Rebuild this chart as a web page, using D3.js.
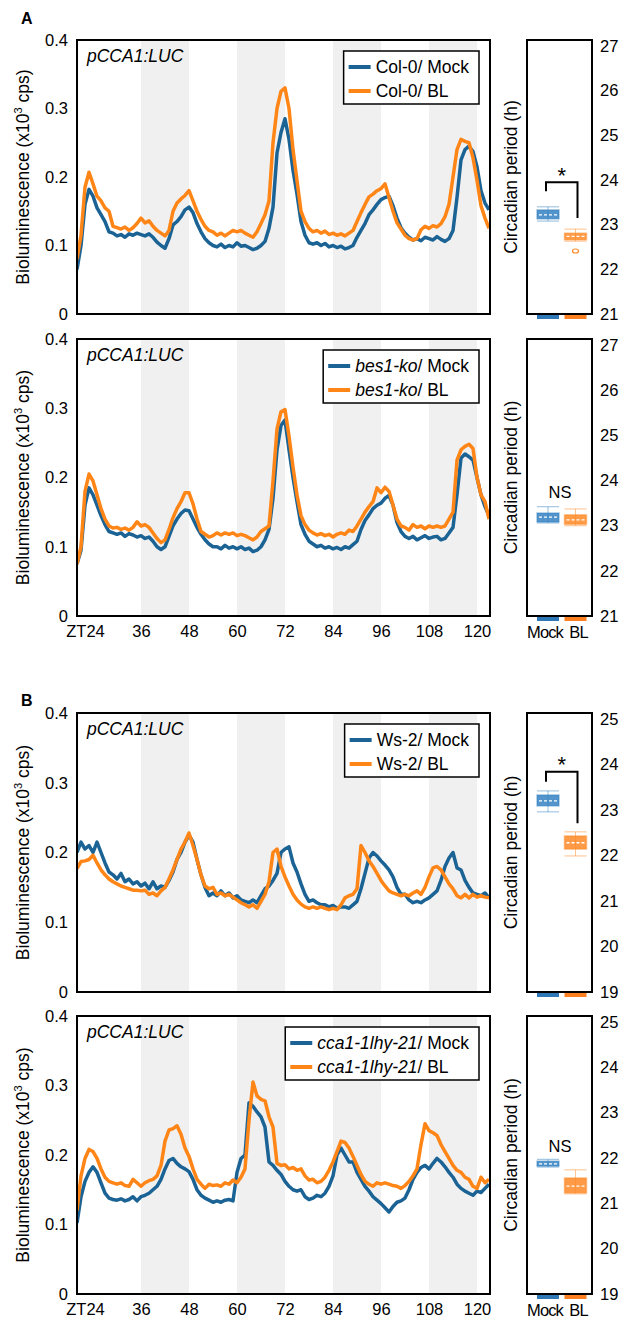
<!DOCTYPE html>
<html>
<head>
<meta charset="utf-8">
<script src="https://cdn.jsdelivr.net/npm/d3@7"></script>
<style>
  body { margin: 0; background: #fff; }
  svg { display: block; font-family: "Liberation Sans", Arial, sans-serif; }
</style>
</head>
<body>
<svg id="fig" width="621" height="1319"></svg>
<script>
// sampling hours (ZT), one reading per hour
var hours = d3.range(20, 124);

// A: Col-0
var col0Mock = [
  0.065,0.10,0.16,0.182,0.172,0.155,0.145,0.135,0.12,0.118,
  0.114,0.116,0.112,0.117,0.115,0.118,0.116,0.114,0.117,0.112,
  0.105,0.1,0.096,0.11,0.13,0.135,0.142,0.152,0.156,0.148,
  0.132,0.12,0.11,0.104,0.1,0.098,0.102,0.097,0.1,0.098,
  0.104,0.099,0.1,0.097,0.094,0.096,0.1,0.106,0.125,0.156,
  0.235,0.265,0.285,0.255,0.21,0.175,0.135,0.115,0.104,0.102,
  0.104,0.1,0.103,0.098,0.1,0.097,0.099,0.095,0.097,0.1,
  0.112,0.122,0.132,0.145,0.152,0.16,0.167,0.17,0.172,0.158,
  0.14,0.126,0.118,0.112,0.108,0.11,0.107,0.112,0.11,0.108,
  0.113,0.109,0.106,0.11,0.122,0.17,0.225,0.24,0.245,0.237,
  0.215,0.18,0.162,0.152];
var col0BL = [
  0.08,0.115,0.185,0.207,0.19,0.172,0.165,0.155,0.15,0.128,
  0.126,0.124,0.127,0.122,0.126,0.132,0.14,0.133,0.136,0.128,
  0.122,0.118,0.114,0.122,0.15,0.162,0.168,0.173,0.18,0.165,
  0.15,0.138,0.128,0.122,0.12,0.115,0.118,0.114,0.118,0.122,
  0.12,0.122,0.118,0.115,0.112,0.12,0.132,0.145,0.165,0.25,
  0.3,0.325,0.33,0.3,0.24,0.195,0.15,0.135,0.125,0.12,
  0.122,0.118,0.121,0.116,0.118,0.115,0.117,0.114,0.118,0.122,
  0.135,0.148,0.16,0.171,0.175,0.18,0.183,0.19,0.17,0.15,
  0.133,0.124,0.115,0.11,0.108,0.11,0.123,0.128,0.125,0.129,
  0.127,0.132,0.142,0.16,0.2,0.24,0.255,0.252,0.25,0.228,
  0.195,0.158,0.14,0.125];

// A: bes1-ko
var bes1Mock = [
  0.075,0.095,0.16,0.185,0.175,0.16,0.145,0.132,0.122,0.12,
  0.118,0.12,0.115,0.119,0.117,0.114,0.116,0.112,0.114,0.108,
  0.1,0.096,0.1,0.115,0.13,0.14,0.148,0.153,0.152,0.14,
  0.128,0.118,0.11,0.104,0.1,0.1,0.097,0.102,0.098,0.1,
  0.097,0.1,0.096,0.098,0.093,0.095,0.1,0.11,0.125,0.17,
  0.24,0.275,0.283,0.24,0.2,0.165,0.132,0.118,0.108,0.104,
  0.1,0.102,0.098,0.1,0.097,0.099,0.096,0.1,0.098,0.103,
  0.108,0.125,0.138,0.146,0.155,0.16,0.163,0.17,0.174,0.16,
  0.135,0.122,0.115,0.112,0.115,0.11,0.113,0.116,0.112,0.114,
  0.115,0.11,0.112,0.12,0.128,0.175,0.228,0.234,0.23,0.225,
  0.2,0.175,0.158,0.145];
var bes1BL = [
  0.075,0.1,0.18,0.205,0.195,0.175,0.155,0.14,0.13,0.127,
  0.128,0.125,0.127,0.124,0.128,0.136,0.13,0.132,0.128,0.12,
  0.112,0.106,0.11,0.125,0.142,0.155,0.165,0.178,0.178,0.162,
  0.14,0.122,0.118,0.114,0.116,0.12,0.117,0.12,0.118,0.12,
  0.116,0.118,0.116,0.113,0.11,0.114,0.122,0.126,0.13,0.195,
  0.27,0.295,0.298,0.26,0.215,0.175,0.145,0.132,0.124,0.12,
  0.117,0.119,0.116,0.118,0.114,0.118,0.12,0.118,0.124,0.122,
  0.13,0.14,0.15,0.158,0.165,0.185,0.178,0.186,0.18,0.16,
  0.14,0.13,0.128,0.124,0.132,0.128,0.13,0.126,0.13,0.128,
  0.13,0.128,0.13,0.14,0.15,0.225,0.24,0.245,0.248,0.242,
  0.2,0.175,0.165,0.14];

// B: Ws-2
var ws2Mock = [
  0.2,0.215,0.205,0.21,0.2,0.215,0.2,0.185,0.172,0.168,
  0.162,0.17,0.158,0.162,0.155,0.158,0.152,0.156,0.148,0.158,
  0.148,0.152,0.15,0.16,0.172,0.19,0.2,0.215,0.225,0.215,
  0.19,0.168,0.15,0.138,0.142,0.138,0.145,0.138,0.142,0.135,
  0.138,0.132,0.13,0.128,0.132,0.128,0.138,0.148,0.152,0.16,
  0.17,0.2,0.205,0.208,0.185,0.172,0.155,0.14,0.13,0.132,
  0.128,0.125,0.125,0.122,0.124,0.12,0.122,0.122,0.12,0.125,
  0.13,0.148,0.17,0.192,0.2,0.195,0.188,0.182,0.175,0.165,
  0.15,0.14,0.14,0.132,0.128,0.13,0.128,0.132,0.135,0.14,
  0.145,0.16,0.18,0.192,0.2,0.178,0.175,0.16,0.15,0.142,
  0.14,0.138,0.142,0.135];
var ws2BL = [
  0.177,0.187,0.188,0.19,0.196,0.185,0.175,0.168,0.162,0.158,
  0.155,0.152,0.15,0.148,0.146,0.146,0.145,0.146,0.14,0.142,
  0.138,0.145,0.15,0.162,0.175,0.19,0.205,0.215,0.228,0.21,
  0.19,0.168,0.152,0.148,0.15,0.14,0.142,0.138,0.14,0.136,
  0.132,0.128,0.125,0.122,0.125,0.12,0.13,0.14,0.158,0.2,
  0.205,0.18,0.165,0.152,0.14,0.132,0.126,0.122,0.12,0.122,
  0.12,0.122,0.12,0.118,0.12,0.118,0.125,0.135,0.138,0.14,
  0.148,0.21,0.2,0.188,0.18,0.17,0.16,0.152,0.145,0.142,
  0.14,0.138,0.14,0.138,0.142,0.145,0.14,0.15,0.165,0.178,
  0.18,0.175,0.165,0.155,0.148,0.138,0.135,0.14,0.135,0.14,
  0.136,0.138,0.136,0.135];

// B: cca1-1lhy-21
var cca1Mock = [
  0.102,0.14,0.162,0.175,0.183,0.175,0.16,0.145,0.138,0.136,
  0.135,0.137,0.134,0.136,0.14,0.134,0.14,0.142,0.145,0.15,
  0.155,0.165,0.18,0.192,0.195,0.188,0.183,0.18,0.176,0.165,
  0.15,0.142,0.138,0.135,0.132,0.134,0.132,0.135,0.136,0.134,
  0.175,0.195,0.2,0.275,0.27,0.262,0.255,0.24,0.19,0.185,
  0.178,0.172,0.162,0.155,0.15,0.148,0.15,0.14,0.136,0.138,
  0.142,0.14,0.145,0.155,0.17,0.2,0.21,0.2,0.19,0.19,
  0.175,0.165,0.155,0.148,0.14,0.135,0.13,0.124,0.118,0.126,
  0.132,0.134,0.138,0.15,0.165,0.175,0.182,0.185,0.18,0.188,
  0.195,0.19,0.183,0.175,0.168,0.158,0.152,0.148,0.145,0.142,
  0.148,0.146,0.152,0.158];
var cca1BL = [
  0.12,0.17,0.195,0.208,0.205,0.195,0.18,0.168,0.162,0.16,
  0.158,0.16,0.156,0.155,0.165,0.16,0.155,0.16,0.163,0.165,
  0.17,0.185,0.22,0.236,0.238,0.242,0.23,0.21,0.198,0.18,
  0.165,0.158,0.152,0.158,0.156,0.157,0.155,0.16,0.158,0.164,
  0.16,0.168,0.18,0.25,0.305,0.285,0.28,0.278,0.255,0.24,
  0.188,0.185,0.186,0.18,0.182,0.178,0.18,0.17,0.164,0.165,
  0.16,0.162,0.168,0.178,0.19,0.205,0.22,0.218,0.21,0.198,
  0.185,0.172,0.162,0.158,0.155,0.16,0.158,0.16,0.158,0.156,
  0.155,0.152,0.156,0.162,0.17,0.18,0.215,0.245,0.235,0.232,
  0.228,0.215,0.205,0.195,0.185,0.178,0.175,0.168,0.165,0.155,
  0.152,0.168,0.16,0.165];

var genotypes = ["Col-0", "bes1-ko", "Ws-2", "cca1-1lhy-21"];
var genoItalic = [false, true, false, true];
var treatments = ["Mock", "BL"];

var xTicks = [24, 36, 48, 60, 72, 84, 96, 108, 120];
var xTickLabels = ["ZT24", "36", "48", "60", "72", "84", "96", "108", "120"];
var yTicks = [0, 0.1, 0.2, 0.3, 0.4];
var yTickLabels = ["0", "0.1", "0.2", "0.3", "0.4"];
var nightStarts = [36, 60, 84, 108];

// circadian period boxes: [min, q1, median, q3, max]
var periodMock = [
  [23.08, 23.13, 23.22, 23.33, 23.40],
  [23.06, 23.08, 23.19, 23.28, 23.42],
  [22.96, 23.09, 23.20, 23.33, 23.42],
  [21.80, 21.82, 21.87, 21.93, 21.97]];
var periodBL = [
  [22.63, 22.66, 22.74, 22.81, 22.90],
  [23.00, 23.03, 23.13, 23.24, 23.37],
  [21.99, 22.14, 22.28, 22.43, 22.52],
  [21.21, 21.23, 21.38, 21.56, 21.74]];
var outliersBL = [[22.41], [], [], []];
var periodTicksA = [21, 22, 23, 24, 25, 26, 27];
var periodTicksB = [19, 20, 21, 22, 23, 24, 25];
var sigLabels = ["*", "NS", "*", "NS"];
var sigLevel = [23.93, 23.61, 23.83, 22.13];
// bracket: [top, left end, right end] (h), null for NS
var brackets = [[23.95, 23.75, 23.15], null, [23.84, 23.62, 22.71], null];

var lineBlue = "#1b6394", lineOrange = "#ff8517";
var boxBlue = "#3481c2", boxOrange = "#ff8a26";

var svg = d3.select("#fig");
var plotLeft = 77, plotRight = 490, boxLeft = 527, boxRight = 592;

var panels = [
  { top: 40, bottom: 314, mock: col0Mock, bl: col0BL, xAxis: false, letter: "A", letterY: 24, pTicks: periodTicksA },
  { top: 339, bottom: 616, mock: bes1Mock, bl: bes1BL, xAxis: true, letter: null, pTicks: periodTicksA },
  { top: 713, bottom: 992, mock: ws2Mock, bl: ws2BL, xAxis: false, letter: "B", letterY: 706, pTicks: periodTicksB },
  { top: 1016, bottom: 1294, mock: cca1Mock, bl: cca1BL, xAxis: true, letter: null, pTicks: periodTicksB }
];

var x = d3.scaleLinear().domain([20, 123.25]).range([plotLeft, plotRight]);

panels.forEach(function (p, k) {
    var y = d3.scaleLinear().domain([0, 0.4]).range([p.bottom, p.top]);
    var g = svg.append("g");

    if (p.letter) {
        svg.append("text").attr("x", 21).attr("y", p.letterY)
            .style("font-weight", "bold").style("font-size", "16px").text(p.letter);
    }

    // subjective night bands
    g.selectAll(".night").data(nightStarts).enter().append("rect")
        .attr("x", function (d) { return x(d); })
        .attr("y", p.top)
        .attr("width", function (d) { return x(d + 12) - x(d); })
        .attr("height", p.bottom - p.top)
        .attr("fill", "#f0f0f0");

    var clipId = "clip" + k;
    svg.append("clipPath").attr("id", clipId).append("rect")
        .attr("x", plotLeft).attr("y", p.top)
        .attr("width", plotRight - plotLeft).attr("height", p.bottom - p.top);

    var line = d3.line()
        .x(function (d, i) { return x(hours[i]); })
        .y(function (d) { return y(d); });

    [[p.mock, lineBlue], [p.bl, lineOrange]].forEach(function (s) {
        g.append("path").datum(s[0])
            .attr("clip-path", "url(#" + clipId + ")")
            .attr("d", line)
            .attr("fill", "none")
            .attr("stroke", s[1])
            .attr("stroke-width", 3.5)
            .attr("stroke-linejoin", "round");
    });

    g.append("rect").attr("x", plotLeft).attr("y", p.top)
        .attr("width", plotRight - plotLeft).attr("height", p.bottom - p.top)
        .attr("fill", "none").attr("stroke", "#000").attr("stroke-width", 2);

    // y axis
    var ya = g.append("g").attr("transform", "translate(" + plotLeft + ",0)")
        .call(d3.axisLeft(y).tickValues(yTicks)
            .tickFormat(function (d, i) { return yTickLabels[i]; })
            .tickSize(0).tickPadding(9));
    ya.select(".domain").remove();
    ya.selectAll("text").style("font-size", "16.5px").style("fill", "#000")
        .style("font-family", "Liberation Sans, Arial, sans-serif");

    if (p.xAxis) {
        var xa = g.append("g").attr("transform", "translate(0," + p.bottom + ")")
            .call(d3.axisBottom(x).tickValues(xTicks)
                .tickFormat(function (d, i) { return xTickLabels[i]; })
                .tickSize(0).tickPadding(9));
        xa.select(".domain").remove();
        xa.selectAll("text").style("font-size", "16.5px").style("fill", "#000")
            .style("font-family", "Liberation Sans, Arial, sans-serif");
        xa.selectAll("text").filter(function (d) { return d === 24; }).attr("dx", -8);
    }

    // y title
    var yt = g.append("text")
        .attr("transform", "translate(29," + ((p.top + p.bottom) / 2) + ") rotate(-90)")
        .attr("text-anchor", "middle").style("font-size", "17.5px");
    yt.append("tspan").text("Bioluminescence (x10");
    yt.append("tspan").attr("dy", -7).style("font-size", "11px").text("3");
    yt.append("tspan").attr("dy", 7).text(" cps)");

    // reporter label
    g.append("text").attr("x", plotLeft + 10).attr("y", p.top + 22)
        .style("font-size", "17.5px").style("font-style", "italic").text("pCCA1:LUC");

    // legend
    var lg = g.append("g");
    var lbox = lg.append("rect").attr("fill", "#fff").attr("stroke", "#000").attr("stroke-width", 1.5);
    var maxW = 0;
    treatments.forEach(function (t, i) {
        var ly = 16 + i * 24;
        lg.append("line").attr("x1", 5).attr("x2", 27).attr("y1", ly).attr("y2", ly)
            .attr("stroke", i === 0 ? lineBlue : lineOrange).attr("stroke-width", 4);
        var tx = lg.append("text").attr("x", 32).attr("y", ly + 6).style("font-size", "17.5px");
        tx.append("tspan").style("font-style", genoItalic[k] ? "italic" : "normal").text(genotypes[k]);
        tx.append("tspan").text("/ " + t);
        maxW = Math.max(maxW, tx.node().getComputedTextLength());
    });
    var lw = 32 + maxW + 10;
    lbox.attr("width", lw).attr("height", 53);
    lg.attr("transform", "translate(" + (plotRight - 11 - lw) + "," + (p.top + 11) + ")");

    // circadian period panel
    var py = d3.scaleLinear().domain([p.pTicks[0], p.pTicks[6]]).range([p.bottom, p.top + 6]);
    var px = d3.scalePoint().domain(treatments).range([548, 575.5]);
    var bg = svg.append("g");

    bg.selectAll(".cbar").data(treatments).enter().append("rect")
        .attr("x", function (d) { return px(d) - 11; })
        .attr("y", p.bottom + 1).attr("width", 22).attr("height", 4)
        .attr("fill", function (d, i) { return i === 0 ? "#2e78b8" : "#ff8020"; });

    bg.append("rect").attr("x", boxLeft).attr("y", p.top)
        .attr("width", boxRight - boxLeft).attr("height", p.bottom - p.top)
        .attr("fill", "none").attr("stroke", "#000").attr("stroke-width", 2);

    [[periodMock[k], boxBlue, "Mock", []], [periodBL[k], boxOrange, "BL", outliersBL[k]]].forEach(function (b) {
        var s = b[0], c = b[1], cx = px(b[2]), w = 22;
        bg.append("line").attr("x1", cx).attr("x2", cx)
            .attr("y1", py(s[0])).attr("y2", py(s[4]))
            .attr("stroke", c).attr("stroke-opacity", 0.5).attr("stroke-width", 1);
        [s[0], s[4]].forEach(function (v) {
            bg.append("line").attr("x1", cx - w / 2).attr("x2", cx + w / 2)
                .attr("y1", py(v)).attr("y2", py(v))
                .attr("stroke", c).attr("stroke-opacity", 0.45).attr("stroke-width", 1.2);
        });
        bg.append("rect").attr("x", cx - w / 2).attr("y", py(s[3]))
            .attr("width", w).attr("height", py(s[1]) - py(s[3]))
            .attr("fill", c).attr("fill-opacity", 0.85)
            .attr("stroke", c).attr("stroke-opacity", 0.45).attr("stroke-width", 1.5);
        bg.append("line").attr("x1", cx - w / 2 + 2).attr("x2", cx + w / 2 - 2)
            .attr("y1", py(s[2])).attr("y2", py(s[2]))
            .attr("stroke", "#fff").attr("stroke-width", 1.3).attr("stroke-dasharray", "3,2");
        b[3].forEach(function (o) {
            bg.append("ellipse").attr("cx", cx).attr("cy", py(o)).attr("rx", 3).attr("ry", 2)
                .attr("fill", "none").attr("stroke", c).attr("stroke-width", 1.2);
        });
    });

    var br = brackets[k];
    if (br) {
        bg.append("path")
            .attr("d", "M" + (px("Mock") - 2) + "," + py(br[1]) +
                "V" + py(br[0]) + "H" + (px("BL") + 2) + "V" + py(br[2]))
            .attr("fill", "none").attr("stroke", "#000").attr("stroke-width", 2);
        bg.append("text").attr("x", (px("Mock") + px("BL")) / 2).attr("y", py(sigLevel[k]))
            .attr("text-anchor", "middle").style("font-size", "22px").text(sigLabels[k]);
    } else {
        bg.append("text").attr("x", 560).attr("y", py(sigLevel[k]))
            .attr("text-anchor", "middle").style("font-size", "16.5px").text(sigLabels[k]);
    }

    var pa = bg.append("g").attr("transform", "translate(" + boxRight + ",0)")
        .call(d3.axisRight(py).tickValues(p.pTicks).tickFormat(d3.format("d"))
            .tickSize(0).tickPadding(8));
    pa.select(".domain").remove();
    pa.selectAll("text").style("font-size", "16.5px").style("fill", "#000")
        .style("font-family", "Liberation Sans, Arial, sans-serif");

    bg.append("text")
        .attr("transform", "translate(517," + ((p.top + p.bottom) / 2) + ") rotate(-90)")
        .attr("text-anchor", "middle").style("font-size", "17.5px").text("Circadian period (h)");

    if (p.xAxis) {
        bg.selectAll(".tlab").data(treatments).enter().append("text")
            .attr("x", function (d, i) { return px(d) + (i === 0 ? -3 : 3); })
            .attr("y", p.bottom + 22)
            .attr("text-anchor", "middle")
            .style("font-size", "16.5px").style("letter-spacing", "-0.9px")
            .text(function (d) { return d; });
    }
});
</script>
</body>
</html>
